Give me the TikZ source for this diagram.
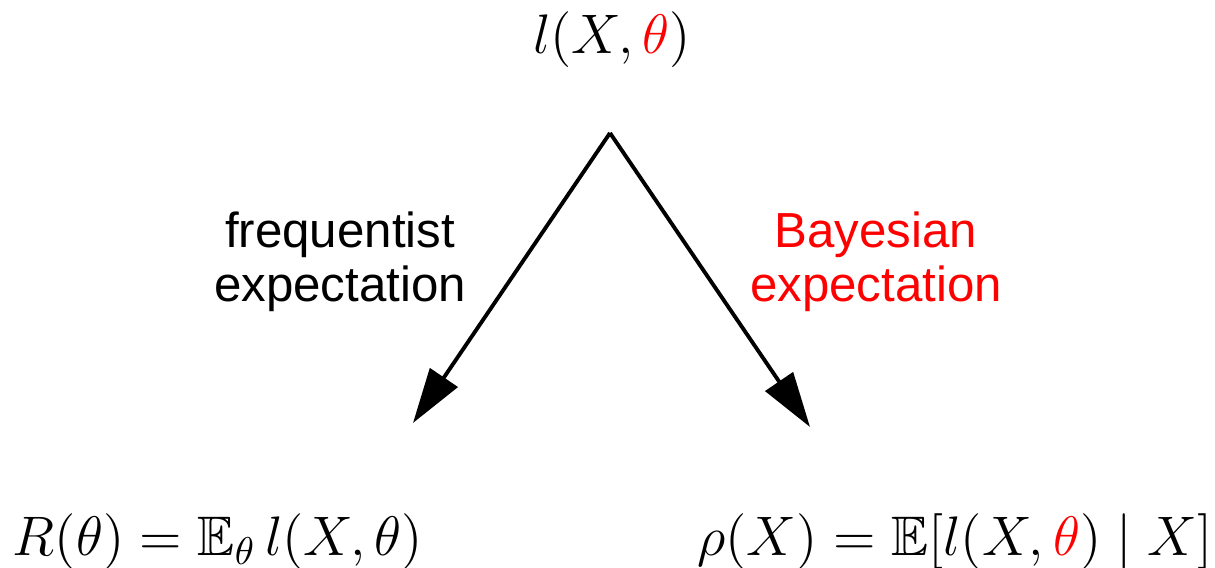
\documentclass[tikz,border=0pt]{standalone}
\usepackage{amssymb}
\usepackage{fontspec}
\newfontfamily\labelfont{Liberation Sans}
\usetikzlibrary{arrows.meta}
\begin{document}
\begin{tikzpicture}[x=0.01cm, y=-0.01cm,
    formula/.style={font=\fontsize{14.4pt}{17pt}\selectfont, scale=1.1},
    lbl/.style={align=center, font=\labelfont\fontsize{14pt}{15.3pt}\selectfont},
    expect/.style={-{Triangle[length=0.55cm, width=0.33cm]}, line width=1.1pt}]
    \useasboundingbox (0,0) rectangle (1215,568);
    \node[formula] (loss) at (612,40) {$l(X,\textcolor{red}{\theta})$};
    \node[formula] (risk) at (218,542) {$R(\theta) = \mathbb{E}_{\theta}\, l(X,\theta)$};
    \node[formula] (post) at (955,542) {$\rho(X) = \mathbb{E}[l(X,\textcolor{red}{\theta}) \mid X]$};
    \node[lbl] (freq) at (340,262) {frequentist\\expectation};
    \node[lbl, text=red] (bayes) at (876,262) {Bayesian\\expectation};
    \coordinate (apex) at (610,133);
    \coordinate (ftip) at (413,423);
    \coordinate (btip) at (810,427);

    % the two expectations
    \draw[expect] (apex) -- (ftip);
    \draw[expect] (apex) -- (btip);
\end{tikzpicture}
\end{document}
